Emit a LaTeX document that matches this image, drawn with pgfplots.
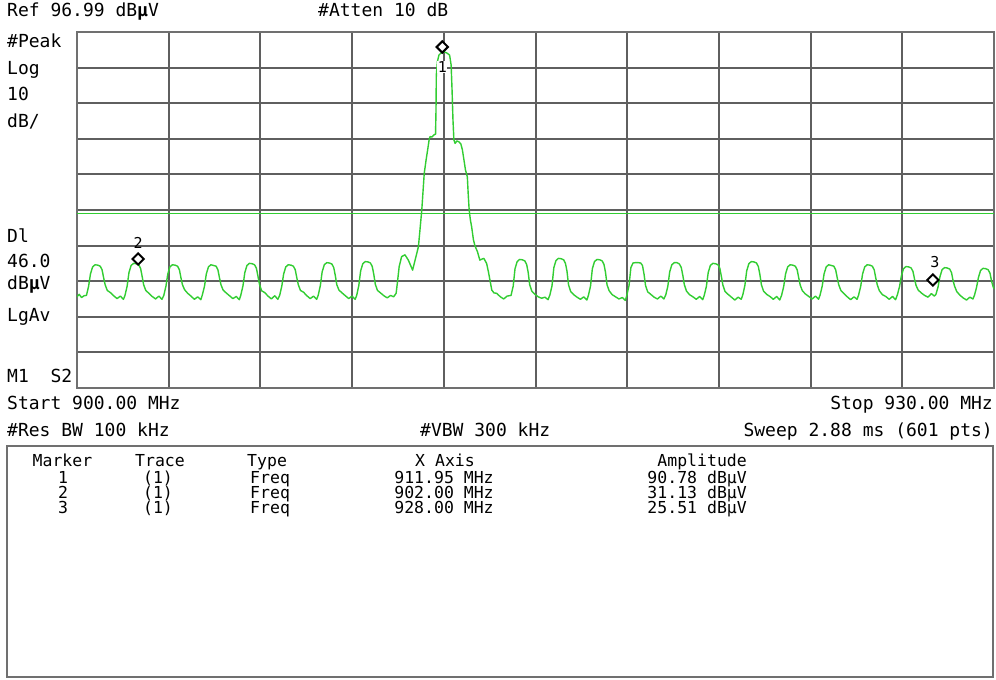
\documentclass[border=0pt]{standalone}
\usepackage{pgfplots}
\pgfplotsset{compat=1.18}
\usepackage{pgfplotstable}
\usepackage{fontspec}
\setmainfont{DejaVu Sans Mono}
\definecolor{tr}{RGB}{50,205,50}
\definecolor{gridc}{RGB}{95,95,95}
\definecolor{framec}{RGB}{112,112,112}

\pgfplotstableread{
x y
900.00 22.6
900.07 23.3
900.15 22.4
900.23 22.9
900.31 23.0
900.38 25.6
900.44 29.0
900.51 31.0
900.59 31.6
900.68 31.5
900.76 31.2
900.82 30.2
900.87 28.0
900.92 26.0
900.99 24.4
901.09 23.8
901.20 22.9
901.31 22.1
901.42 22.8
901.52 21.9
901.57 23.0
901.64 25.6
901.70 29.4
901.77 31.4
901.85 32.0
901.94 31.9
902.02 31.6
902.08 30.6
902.13 28.4
902.18 26.0
902.25 24.4
902.35 23.6
902.46 22.7
902.57 22.0
902.68 22.8
902.78 21.9
902.84 23.0
902.91 25.6
902.97 29.0
903.04 31.0
903.12 31.6
903.21 31.5
903.29 31.2
903.35 30.2
903.40 28.0
903.45 26.0
903.52 24.6
903.62 23.6
903.73 22.8
903.84 21.9
903.95 22.6
904.05 21.8
904.10 23.1
904.17 25.5
904.23 29.0
904.30 31.0
904.38 31.6
904.47 31.4
904.55 31.2
904.61 30.2
904.66 28.0
904.71 26.0
904.78 24.5
904.88 23.7
904.99 22.9
905.10 22.1
905.21 22.7
905.31 21.8
905.36 23.1
905.43 25.7
905.49 29.4
905.56 31.4
905.64 32.0
905.73 31.9
905.81 31.6
905.87 30.6
905.92 28.4
905.97 26.1
906.04 24.3
906.14 23.8
906.25 22.8
906.36 22.0
906.47 22.9
906.57 21.9
906.63 23.0
906.70 25.6
906.76 29.0
906.83 31.0
906.91 31.6
907.00 31.5
907.08 31.2
907.14 30.2
907.19 28.0
907.24 26.0
907.31 24.4
907.41 23.9
907.52 22.9
907.63 22.1
907.74 22.8
907.84 21.9
907.89 23.0
907.96 25.7
908.02 29.6
908.09 31.6
908.17 32.2
908.26 32.1
908.34 31.8
908.40 30.8
908.45 28.6
908.50 26.0
908.57 24.5
908.67 23.7
908.78 22.9
908.89 22.1
909.00 22.8
909.10 21.9
909.15 23.0
909.22 25.8
909.28 29.9
909.35 31.9
909.43 32.5
909.52 32.4
909.60 32.1
909.66 31.1
909.71 28.9
909.76 26.1
909.83 24.4
909.93 23.7
910.04 22.9
910.15 22.3
910.26 23.0
910.36 22.6
910.44 23.6
910.48 26.4
910.54 31.1
910.62 33.9
910.73 34.4
910.84 32.9
910.98 30.1
911.06 32.9
911.17 36.7
911.28 47.0
911.36 57.3
911.42 61.0
911.47 63.8
911.52 66.7
911.55 67.6
911.61 67.5
911.68 68.1
911.73 68.3
911.745 75.1
911.755 84.9
911.79 88.6
911.84 90.5
911.91 91.1
912.01 91.4
912.10 91.1
912.19 90.5
912.24 87.7
912.27 80.7
912.30 72.3
912.33 66.7
912.37 65.7
912.43 66.4
912.50 66.1
912.56 65.5
912.61 63.8
912.66 61.0
912.71 58.2
912.77 56.3
912.80 51.2
912.83 47.0
912.87 44.2
912.91 42.3
912.97 38.6
913.02 36.9
913.10 35.3
913.18 32.9
913.25 33.2
913.31 33.4
913.40 32.0
913.46 29.6
913.51 27.3
913.57 24.5
913.64 23.7
913.73 23.6
913.85 22.6
913.96 22.0
914.07 22.8
914.20 23.0
914.27 25.6
914.33 30.5
914.40 32.5
914.48 33.1
914.57 33.0
914.65 32.7
914.71 31.7
914.76 29.5
914.81 26.0
914.88 24.2
914.98 23.3
915.09 22.6
915.20 22.2
915.31 22.5
915.41 21.8
915.47 23.1
915.54 25.7
915.60 30.8
915.67 32.8
915.75 33.4
915.84 33.3
915.92 33.0
915.98 32.0
916.03 29.8
916.08 26.0
916.15 24.1
916.25 23.2
916.36 22.5
916.47 21.9
916.58 22.6
916.68 21.7
916.73 23.0
916.80 25.6
916.86 30.5
916.93 32.5
917.01 33.1
917.10 33.0
917.18 32.7
917.24 31.7
917.29 29.5
917.34 26.0
917.41 24.3
917.51 23.2
917.62 22.6
917.73 22.0
917.84 22.4
917.94 21.6
917.99 23.1
918.06 25.8
918.12 30.8
918.19 32.1
918.27 32.2
918.36 32.2
918.44 32.1
918.50 31.4
918.55 29.0
918.60 25.8
918.67 24.0
918.77 23.3
918.88 22.5
918.99 22.0
919.10 22.8
919.20 22.0
919.26 23.1
919.33 25.6
919.39 29.6
919.46 31.6
919.54 32.2
919.63 32.2
919.71 31.8
919.77 30.8
919.82 28.6
919.87 26.0
919.94 24.2
920.04 23.2
920.15 22.6
920.26 21.9
920.37 22.7
920.47 21.8
920.52 23.0
920.59 25.5
920.65 29.4
920.72 31.4
920.80 32.0
920.89 31.9
920.97 31.6
921.03 30.6
921.08 28.4
921.13 25.9
921.20 24.1
921.30 23.3
921.41 22.5
921.52 21.7
921.63 22.5
921.73 21.9
921.78 23.1
921.85 25.8
921.91 29.9
921.98 31.9
922.06 32.5
922.15 32.4
922.23 32.1
922.29 31.1
922.34 28.9
922.39 26.0
922.46 24.2
922.56 23.3
922.67 22.7
922.78 21.9
922.89 22.7
922.99 21.7
923.05 23.0
923.12 25.5
923.18 29.0
923.25 31.0
923.33 31.6
923.42 31.5
923.50 31.2
923.56 30.2
923.61 28.0
923.66 25.9
923.73 24.3
923.83 23.4
923.94 22.7
924.05 22.0
924.16 22.8
924.26 21.9
924.31 23.1
924.38 25.6
924.44 29.0
924.51 31.0
924.59 31.6
924.68 31.4
924.76 31.2
924.82 30.2
924.87 28.0
924.92 26.0
924.99 24.4
925.09 23.5
925.20 22.6
925.31 21.8
925.42 22.6
925.52 21.9
925.57 23.1
925.64 25.6
925.70 29.0
925.77 31.0
925.85 31.6
925.94 31.5
926.02 31.2
926.08 30.2
926.13 28.0
926.18 26.0
926.25 24.3
926.35 23.2
926.46 22.7
926.57 21.9
926.68 22.7
926.78 21.8
926.84 23.2
926.91 25.5
926.97 28.5
927.04 30.5
927.12 31.1
927.21 31.0
927.29 30.7
927.35 29.7
927.40 27.6
927.45 25.8
927.52 24.5
927.62 23.7
927.73 23.0
927.84 22.5
927.95 23.5
928.05 22.8
928.10 23.3
928.17 25.4
928.23 28.2
928.30 30.2
928.38 30.8
928.47 30.7
928.55 30.4
928.61 29.4
928.66 27.2
928.71 25.6
928.78 24.1
928.88 23.1
928.99 22.3
929.10 21.7
929.21 22.5
929.31 22.0
929.36 23.0
929.43 25.3
929.49 28.0
929.56 30.0
929.64 30.6
929.73 30.5
929.81 30.2
929.87 29.2
929.92 27.0
929.97 25.5
930.00 24.8
}\trace

\pgfplotstableread{
x y
911.95 92.78
902.00 33.23
928.00 27.32
}\markers

\begin{document}
\begin{tikzpicture}[x=1pt,y=1pt]
\useasboundingbox (0,0) rectangle (996,680);
\fill[white] (0,0) rectangle (996,680);
\begin{axis}[
  at={(77pt,292pt)}, anchor=south west,
  width=917pt, height=356pt, scale only axis,
  xmin=900, xmax=930, ymin=-3.01, ymax=96.99,
  xtick={903,906,909,912,915,918,921,924,927},
  ytick={6.99,16.99,26.99,36.99,46.99,56.99,66.99,76.99,86.99},
  xticklabels={}, yticklabels={},
  major tick length=0pt,
  grid=major,
  major grid style={gridc, line width=2pt},
  axis line style={framec, line width=2.8pt},
  clip=true,
]
\addplot[tr, line width=1.8pt] coordinates {(900,46.0) (930,46.0)};
\addplot[tr, line width=1.4pt, line join=round] table[x=x,y=y]{\trace};
\addplot[only marks, mark=square*, mark size=4pt,
  mark options={rotate=45, fill=white, draw=black, line width=2pt}]
  table[x=x,y=y]{\markers};
\node[font=\fontsize{15}{15}\selectfont, fill=white, inner sep=0.6pt] at (axis cs:911.95,87.2) {1};
\node[font=\fontsize{15}{15}\selectfont, inner sep=0pt] at (axis cs:902.0,37.8) {2};
\node[font=\fontsize{15}{15}\selectfont, inner sep=0pt] at (axis cs:928.07,32.3) {3};
\end{axis}
\begin{scope}[every node/.style={inner sep=0pt, font=\fontsize{18}{18}\selectfont}]
\node[anchor=base west] at (7,663) {Ref 96.99 dB{\bfseries μ}V};
\node[anchor=base west] at (318,663) {\#Atten 10 dB};
\node[anchor=base west] at (7,632) {\#Peak};
\node[anchor=base west] at (7,605) {Log};
\node[anchor=base west] at (7,579) {10};
\node[anchor=base west] at (7,552) {dB/};
\node[anchor=base west] at (7,437) {Dl};
\node[anchor=base west] at (7,412) {46.0};
\node[anchor=base west] at (7,390) {dB{\bfseries μ}V};
\node[anchor=base west] at (7,358) {LgAv};
\node[anchor=base west] at (7,297) {M1~ S2};
\node[anchor=base west] at (7,270) {Start 900.00 MHz};
\node[anchor=base east] at (993,270) {Stop 930.00 MHz};
\node[anchor=base west] at (7,243) {\#Res BW 100 kHz};
\node[anchor=base west] at (420,243) {\#VBW 300 kHz};
\node[anchor=base east] at (993,243) {Sweep 2.88 ms (601 pts)};
\end{scope}
\draw[framec, line width=2.8pt] (7,3) rectangle (993,234);
\begin{scope}[every node/.style={inner sep=0pt, font=\fontsize{16.5}{16.5}\selectfont}]
\node[anchor=base] at (62.5,213) {Marker};
\node[anchor=base] at (160,213) {Trace};
\node[anchor=base west] at (247,213) {Type};
\node[anchor=base] at (445,213) {X Axis};
\node[anchor=base east] at (747,213) {Amplitude};
\node[anchor=base] at (63,196) {1};
\node[anchor=base] at (63,181) {2};
\node[anchor=base] at (63,166) {3};
\node[anchor=base] at (158,196) {(1)};
\node[anchor=base] at (158,181) {(1)};
\node[anchor=base] at (158,166) {(1)};
\node[anchor=base west] at (250,196) {Freq};
\node[anchor=base west] at (250,181) {Freq};
\node[anchor=base west] at (250,166) {Freq};
\node[anchor=base] at (444,196) {911.95 MHz};
\node[anchor=base] at (444,181) {902.00 MHz};
\node[anchor=base] at (444,166) {928.00 MHz};
\node[anchor=base east] at (747,196) {90.78 dBμV};
\node[anchor=base east] at (747,181) {31.13 dBμV};
\node[anchor=base east] at (747,166) {25.51 dBμV};
\end{scope}
\end{tikzpicture}
\end{document}
